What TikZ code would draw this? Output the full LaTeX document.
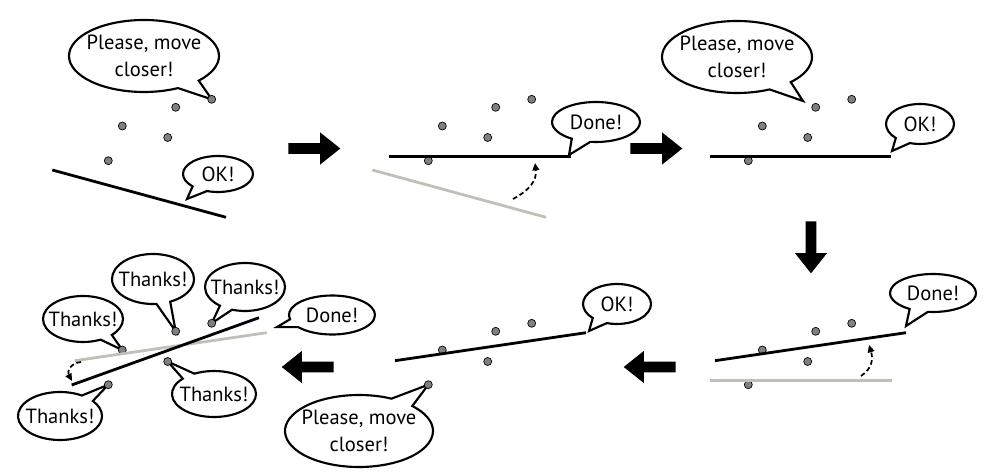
\documentclass[tikz,border=0pt]{standalone}
\usepackage{fontspec}
\setmainfont{PT Sans}
\usetikzlibrary{shapes.callouts,shapes.arrows,arrows.meta}
\pgfdeclarelayer{background}
\pgfsetlayers{background,main}
\definecolor{dotgray}{RGB}{128,128,128}
\definecolor{oldline}{RGB}{192,192,184}
\begin{document}
\begin{tikzpicture}[x=0.75pt,y=-0.75pt,
 dot/.style={circle,draw=black,fill=dotgray,line width=0.5pt,minimum size=6pt,inner sep=0pt},
 fitline/.style={line width=2.1pt,black},
 oldfit/.style={line width=2.1pt,oldline},
 bubble/.style 2 args={ellipse callout,draw=black,fill=white,line width=1.6pt,minimum width=#1*1.5pt,minimum height=#2*1.5pt,inner sep=0pt,callout pointer arc=20},
 txt/.style={font=\fontsize{15.4}{20}\selectfont,align=center,inner sep=0pt},
 blockarrow/.style={single arrow,fill=black,draw=none,inner sep=3.75pt,minimum height=39pt,minimum width=23.8pt,single arrow head extend=8.15pt,single arrow tip angle=77,single arrow head indent=0pt},
 turn/.style={dash pattern=on 3.5pt off 2.2pt,line width=1.3pt,-{Triangle[length=5.5pt,width=5pt]}}
]
\useasboundingbox (0,0) rectangle (988,473);

% dots of the six panels
\foreach \p/\dx/\dy in {1/0/0,2/320/0,3/640/0,4/640/224,5/320/224,6/0/224}{
  \foreach \k/\x/\y in {1/211.7/99.3,2/175.7/107.3,3/122.3/126,4/167.7/137.5,5/108.3/160.7}{
    \node[dot] (d\p\k) at (\x+\dx,\y+\dy) {};
  }
}

% line end points
\coordinate (l1a) at (52.3,170);   \coordinate (l1b) at (226,217.3);
\coordinate (g2a) at (372.3,170);  \coordinate (g2b) at (546,217.3);
\coordinate (l2a) at (389,156.3);  \coordinate (l2b) at (571,156.3);
\coordinate (l3a) at (710,156.3);  \coordinate (l3b) at (891,156.3);
\coordinate (g4a) at (710,380.5);  \coordinate (g4b) at (892,380.5);
\coordinate (l4a) at (715,360.7);  \coordinate (l4b) at (906,332.7);
\coordinate (l5a) at (395,360.7);  \coordinate (l5b) at (586,332.7);
\coordinate (g6a) at (75,360.7);   \coordinate (g6b) at (266.7,332.7);
\coordinate (l6a) at (71.7,385);   \coordinate (l6b) at (259,317.7);

\draw[fitline] (l1a) -- (l1b);
\draw[oldfit] (g2a) -- (g2b);
\draw[fitline] (l2a) -- (l2b);
\draw[fitline] (l3a) -- (l3b);
\draw[oldfit] (g4a) -- (g4b);
\draw[fitline] (l4a) -- (l4b);
\draw[fitline] (l5a) -- (l5b);
\draw[oldfit] (g6a) -- (g6b);
\draw[fitline] (l6a) -- (l6b);

% rotation hints
\coordinate (t2a) at (513,199);  \coordinate (t2b) at (535,163);
\coordinate (t4a) at (861,376);  \coordinate (t4b) at (869,345);
\coordinate (t6a) at (81,362);   \coordinate (t6b) at (72,381);
\draw[turn] (t2a) .. controls (530,190) and (537,180) .. (t2b);
\draw[turn] (t4a) .. controls (873,368) and (873,358) .. (t4b);
\draw[turn] (t6a) .. controls (70,363) and (67,372) .. (t6b);

% block arrows
\node[blockarrow] (ar1) at (311,148.5) {};
\node[blockarrow] (ar2) at (653,148.5) {};
\node[blockarrow,shape border rotate=270] (ar3) at (811,244) {};
\node[blockarrow,shape border rotate=180] (ar4) at (653,367) {};
\node[blockarrow,shape border rotate=180] (ar5) at (311,367) {};

% pointer targets that are not dots
\coordinate (p1b) at (187,199);
\coordinate (p2) at (569,155);
\coordinate (p3a) at (803,101);
\coordinate (p3b) at (892,151);
\coordinate (p4) at (906,326);
\coordinate (p5a) at (589,331);
\coordinate (p6d) at (277,327);

\begin{pgfonlayer}{background}
\node[bubble={75}{36},callout absolute pointer={(d11.center)},label={[txt]center:{Please, move\\closer!}}] (b1a) at (144,56) {};
\node[bubble={35}{18},callout absolute pointer={(p1b)},callout pointer arc=28,label={[txt]center:{OK!}}] (b1b) at (218,174) {};
\node[bubble={44}{20},callout absolute pointer={(p2)},callout pointer arc=26,label={[txt]center:{Done!}}] (b2) at (596,122) {};
\node[bubble={75}{36},callout absolute pointer={(p3a)},label={[txt]center:{Please, move\\closer!}}] (b3a) at (737,57) {};
\node[bubble={34}{20},callout absolute pointer={(p3b)},callout pointer arc=28,label={[txt]center:{OK!}}] (b3b) at (920,124) {};
\node[bubble={43}{19},callout absolute pointer={(p4)},callout pointer arc=26,label={[txt]center:{Done!}}] (b4) at (933,293) {};
\node[bubble={34}{20},callout absolute pointer={(p5a)},callout pointer arc=28,label={[txt]center:{OK!}}] (b5a) at (617,304) {};
\node[bubble={74}{36},callout absolute pointer={(d55.center)},label={[txt]center:{Please, move\\closer!}}] (b5b) at (359,431) {};
\node[bubble={40}{23},callout absolute pointer={(d63.center)},label={[txt]center:{Thanks!}}] (b6a) at (83,319) {};
\node[bubble={41}{25},callout absolute pointer={(d62.center)},label={[txt]center:{Thanks!}}] (b6b) at (153,279) {};
\node[bubble={40}{24},callout absolute pointer={(d61.center)},label={[txt]center:{Thanks!}}] (b6c) at (245,287) {};
\node[bubble={43}{19.5},callout absolute pointer={(p6d)},callout pointer arc=26,label={[txt]center:{Done!}}] (b6d) at (332,315) {};
\node[bubble={42}{24},callout absolute pointer={(d65.center)},label={[txt]center:{Thanks!}}] (b6e) at (60,416) {};
\node[bubble={42}{23},callout absolute pointer={(d64.center)},label={[txt]center:{Thanks!}}] (b6f) at (214,394) {};
\end{pgfonlayer}
\end{tikzpicture}
\end{document}
